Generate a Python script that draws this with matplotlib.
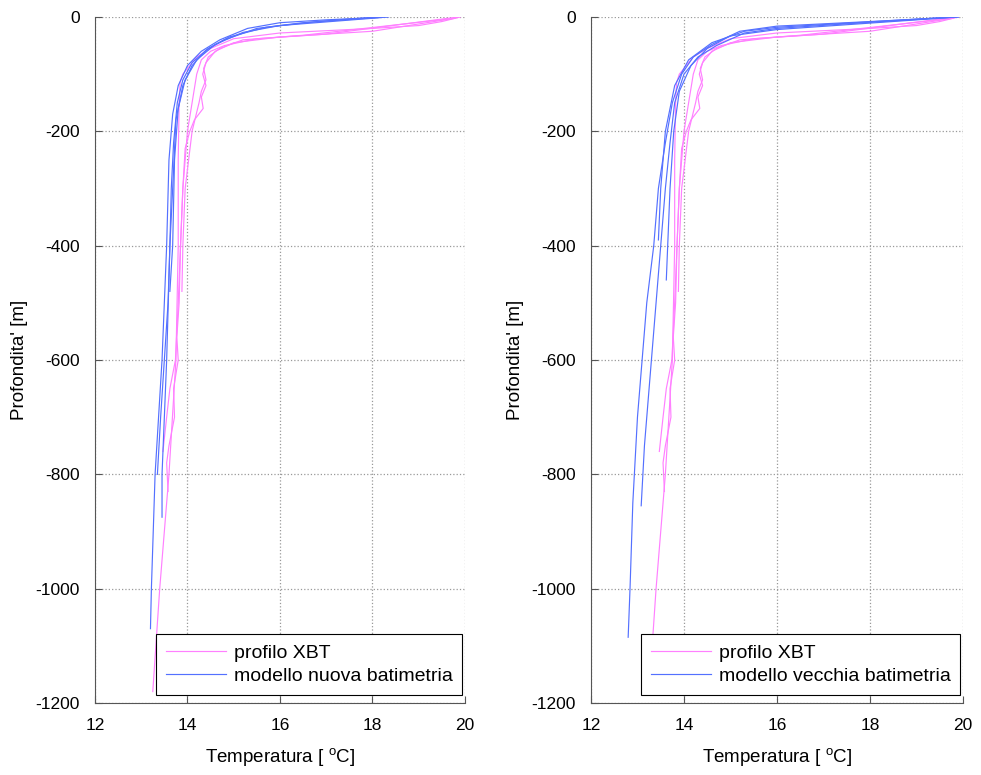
import numpy as np
import matplotlib.pyplot as plt

plt.rcParams['font.family'] = ['Liberation Sans', 'DejaVu Sans']
plt.rcParams['mathtext.default'] = 'regular'
plt.rcParams['axes.unicode_minus'] = False

# XBT profiles (observed): depth [m], temperature [C]
xbt1_d = [0, -8, -15, -20, -28, -38, -55, -70, -85, -100, -115, -150, -250, -400, -600, -800, -1000, -1180]
xbt1_t = [19.9, 19.5, 19.0, 18.0, 16.0, 15.0, 14.5, 14.2, 14.05, 13.9, 13.84, 13.82, 13.8, 13.8, 13.75, 13.6, 13.4, 13.25]

xbt2_d = [-2, -25, -35, -45, -60, -80, -100, -120, -140, -160, -180, -200, -230, -300, -400, -500,
          -560, -600, -650, -700, -750, -780, -830]
xbt2_t = [19.8, 18.0, 16.0, 15.0, 14.6, 14.4, 14.33, 14.4, 14.3, 14.34, 14.15, 14.05, 13.95, 13.9, 13.85, 13.82,
          13.77, 13.8, 13.7, 13.72, 13.6, 13.55, 13.58]

xbt3_d = [0, -30, -38, -50, -60, -75, -100, -150, -200, -300, -400, -500, -600, -650, -700, -760]
xbt3_t = [19.85, 17.0, 15.5, 14.8, 14.5, 14.3, 14.2, 14.1, 14.0, 13.9, 13.85, 13.8, 13.74, 13.62, 13.55, 13.47]

xbt4_d = [-3, -32, -40, -55, -70, -90, -110, -130, -150, -200, -300, -400, -480]
xbt4_t = [19.7, 16.5, 15.2, 14.7, 14.45, 14.35, 14.4, 14.3, 14.25, 14.1, 13.95, 13.9, 13.88]

# model, new bathymetry
nuova1_d = [0, -5, -10, -20, -40, -60, -85, -120, -170, -250, -400, -600, -800, -1000, -1070]
nuova1_t = [18.35, 17.0, 16.0, 15.3, 14.7, 14.3, 14.0, 13.8, 13.68, 13.6, 13.55, 13.45, 13.3, 13.22, 13.2]

nuova2_d = [0, -10, -20, -40, -58, -85, -120, -180, -300, -400, -600, -800, -875]
nuova2_t = [18.3, 16.5, 15.5, 14.8, 14.4, 14.1, 13.9, 13.75, 13.68, 13.62, 13.55, 13.45, 13.45]

nuova3_d = [-1, -15, -27, -48, -75, -110, -160, -250, -400, -480]
nuova3_t = [18.2, 16.0, 15.2, 14.6, 14.2, 13.95, 13.8, 13.72, 13.68, 13.62]

nuova4_d = [0, -8, -18, -35, -55, -80, -110, -150, -220, -300, -400, -500, -600, -700, -800]
nuova4_t = [18.1, 16.8, 15.7, 14.9, 14.45, 14.1, 13.9, 13.78, 13.7, 13.65, 13.62, 13.58, 13.5, 13.42, 13.35]

# model, old bathymetry
vecchia1_d = [0, -8, -16, -25, -48, -70, -100, -150, -220, -300, -400, -500, -600, -700, -850, -1000, -1085]
vecchia1_t = [19.9, 18.0, 16.0, 15.2, 14.6, 14.2, 13.95, 13.75, 13.6, 13.45, 13.35, 13.2, 13.1, 13.0, 12.9, 12.84, 12.8]

vecchia2_d = [0, -12, -20, -28, -50, -70, -100, -150, -220, -300, -400, -550, -650, -750, -855]
vecchia2_t = [19.85, 17.5, 16.0, 15.3, 14.7, 14.3, 14.0, 13.8, 13.7, 13.6, 13.5, 13.35, 13.25, 13.15, 13.08]

vecchia3_d = [0, -18, -25, -45, -75, -120, -200, -300, -390]
vecchia3_t = [19.8, 16.0, 15.3, 14.6, 14.1, 13.8, 13.6, 13.5, 13.45]

vecchia4_d = [0, -22, -33, -55, -85, -130, -200, -300, -400, -460]
vecchia4_t = [19.9, 16.0, 15.0, 14.5, 14.15, 13.9, 13.78, 13.7, 13.65, 13.62]

xbt = [(xbt1_t, xbt1_d), (xbt2_t, xbt2_d), (xbt3_t, xbt3_d), (xbt4_t, xbt4_d)]
nuova = [(nuova1_t, nuova1_d), (nuova2_t, nuova2_d), (nuova3_t, nuova3_d), (nuova4_t, nuova4_d)]
vecchia = [(vecchia1_t, vecchia1_d), (vecchia2_t, vecchia2_d), (vecchia3_t, vecchia3_d), (vecchia4_t, vecchia4_d)]

xbt_color = '#ff80ff'
model_color = '#5470ff'

fig = plt.figure(figsize=(9.81, 7.75), dpi=100)
ax_left = fig.add_axes([0.0968, 0.0929, 0.3772, 0.8852])
ax_right = fig.add_axes([0.6024, 0.0929, 0.3793, 0.8852])

panels = [(ax_left, nuova, 'modello nuova batimetria'),
          (ax_right, vecchia, 'modello vecchia batimetria')]

for ax, model, model_label in panels:
    for i, (t, d) in enumerate(xbt):
        ax.plot(t, d, color=xbt_color, lw=0.85, label='profilo XBT' if i == 0 else None)
    for i, (t, d) in enumerate(model):
        ax.plot(t, d, color=model_color, lw=0.85, label=model_label if i == 0 else None)

    ax.set_xlim(12, 20)
    ax.set_ylim(-1200, 0)
    ax.set_xticks(np.arange(12, 21, 2))
    ax.set_yticks(np.arange(-1200, 1, 200))
    ax.grid(True, color='#999999', linestyle=':', linewidth=0.9)
    ax.spines['top'].set_visible(False)
    ax.spines['right'].set_visible(False)
    ax.spines['left'].set_color('#555555')
    ax.spines['bottom'].set_color('#555555')
    ax.tick_params(direction='in', labelsize=12.5, length=5, color='#555555', pad=11)
    ax.set_xlabel('Temperatura [ $^{o}$C]', fontsize=13.5, labelpad=9)
    ax.set_ylabel("Profondita' [m]", fontsize=13.5, labelpad=5)
    leg = ax.legend(loc='lower right', bbox_to_anchor=(0.993, 0.012), fontsize=14, handlelength=3.1,
                    fancybox=False, framealpha=1, edgecolor='black', borderaxespad=0,
                    borderpad=0.5, labelspacing=0.3, handletextpad=0.4)
    leg.get_frame().set_linewidth(0.8)

fig.savefig('out.png', dpi=100)
